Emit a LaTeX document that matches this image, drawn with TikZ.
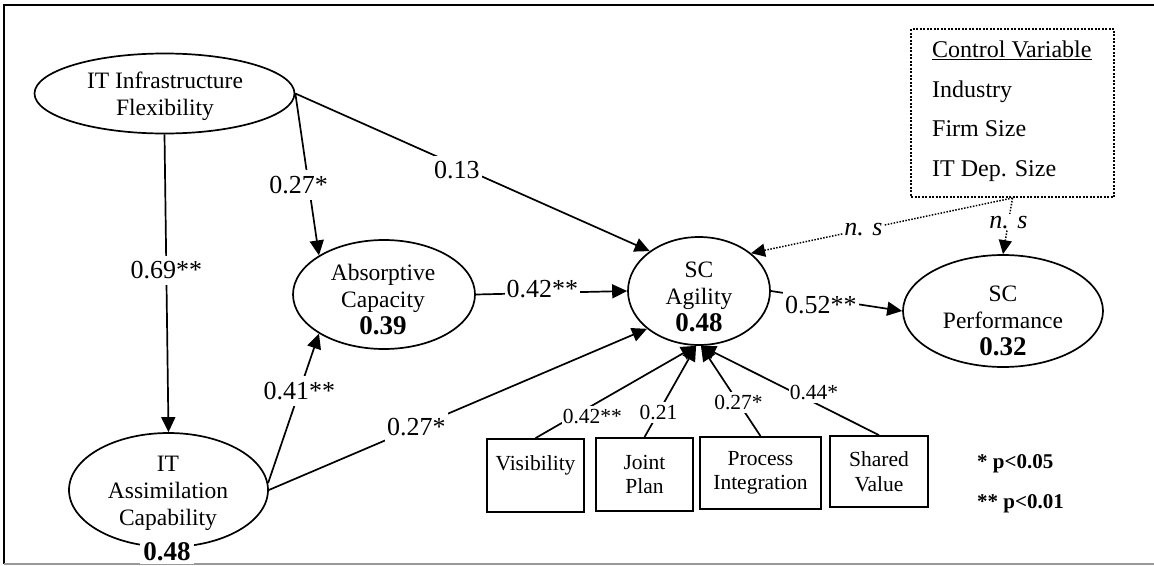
\documentclass[tikz,border=0pt]{standalone}
\usepackage{fontspec}
\setmainfont{Liberation Serif}
\usetikzlibrary{shapes.geometric,arrows.meta}
\newcommand{\bnum}[1]{\textbf{\fontsize{27}{27}\selectfont #1}}
\begin{document}
\begin{tikzpicture}[x=1pt,y=-1pt,
  lat/.style={draw, ellipse, line width=1.7pt, inner sep=0pt},
  ntxt/.style={align=center, font=\fontsize{23.5}{27}\selectfont, inner sep=0pt},
  ind/.style={draw, line width=1.8pt, inner sep=0pt, align=center, font=\fontsize{21.5}{24.5}\selectfont},
  pth/.style={line width=1.7pt, -{Triangle[length=15pt,width=14pt]}},
  npth/.style={line width=1.5pt, dash pattern=on 1.5pt off 1.5pt, -{Triangle[length=14pt,width=13pt]}},
  big/.style={fill=white, inner xsep=2pt, inner ysep=6pt, font=\fontsize{26}{28}\selectfont},
  small/.style={fill=white, inner xsep=1pt, inner ysep=3pt, font=\fontsize{21.5}{24}\selectfont},
  nsl/.style={fill=white, inner xsep=1pt, inner ysep=2pt, font=\fontsize{26}{28}\selectfont\itshape},
  cvt/.style={anchor=base west, inner sep=0pt, font=\fontsize{24}{28}\selectfont},
  leg/.style={anchor=base west, inner sep=0pt, font=\fontsize{21}{24}\selectfont\bfseries}
]
\useasboundingbox (0,0) rectangle (1154,565);
% frame
\draw[line width=2.5pt] (4,564) -- (4,5) -- (1154,5);
\draw[black!40, line width=1.5pt] (4,564) -- (1154,564);

% latent constructs
\node[lat, minimum width=260pt, minimum height=80pt] (itf) at (164.5,93.5) {};
\node[ntxt] (itft) at (165,96.3) {IT Infrastructure\\Flexibility};

\node[lat, minimum width=182pt, minimum height=109pt] (ac) at (384,294.5) {};
\node[ntxt] (act) at (383,299.5) {Absorptive\\Capacity\\\bnum{0.39}};

\node[lat, minimum width=142pt, minimum height=108pt] (agi) at (699,291) {};
\node[ntxt] (agit) at (699,297) {SC\\Agility\\\bnum{0.48}};

\node[lat, minimum width=200pt, minimum height=112pt] (perf) at (1003,311) {};
\node[ntxt] (perft) at (1003,320.5) {SC\\Performance\\\bnum{0.32}};

\node[lat, minimum width=199pt, minimum height=114pt] (itac) at (168.5,490) {};
\node[ntxt] (itact) at (168,493) {IT\\Assimilation\\Capability};
\node[fill=white, inner xsep=3pt, inner ysep=3pt, font=\fontsize{27}{27}\selectfont\bfseries] (itacr) at (167,552) {0.48};

% indicators
\node[ind, minimum width=97pt, minimum height=73pt] (vis) at (535.5,475.5) {Visibility\\\mbox{}};
\node[ind, minimum width=97pt, minimum height=73pt] (jp) at (644.5,474.5) {Joint\\Plan};
\node[ind, minimum width=121pt, minimum height=72pt] (pi) at (760.5,473) {Process\\Integration};
\node[ind, minimum width=98pt, minimum height=71pt] (sv) at (879,471.5) {Shared\\Value};

% control variables
\node[draw, line width=2pt, dash pattern=on 2pt off 1.5pt, minimum width=203pt, minimum height=168pt, inner sep=0pt] (ctrl) at (1012.5,113) {};
\node[cvt] (cv1) at (932,57) {\underline{Control Variable}};
\node[cvt] (cv2) at (932,97) {Industry};
\node[cvt] (cv3) at (932,136) {Firm Size};
\node[cvt] (cv4) at (932,176) {IT Dep. Size};

% legend
\node[leg] (l1) at (977,468) {* p<0.05};
\node[leg] (l2) at (977,508) {** p<0.01};

% paths
\draw[pth] (itf.south) -- node[big, pos=0.457] {0.69**} (itac.north);
\draw[pth] (itf.east) -- node[big, pos=0.565, xshift=-10pt] {0.27*} (ac.149);
\draw[pth] (itf.east) -- node[big, pos=0.456, yshift=-5pt] {0.13} (agi.141.5);
\draw[pth] (ac.east) -- node[big, pos=0.44, yshift=4pt] {0.42**} (agi.west);
\draw[pth] (itac.4) -- node[big, pos=0.615] {0.41**} (ac.211.5);
\draw[pth] (itac.east) -- node[big, pos=0.39] {0.27*} (agi.216);
\draw[pth] (agi.east) -- node[big, pos=0.38, yshift=-6pt] {0.52**} (perf.west);
\draw[npth] (ctrl.south) -- node[nsl, pos=0.57] {n. s} (agi.36);
\draw[npth] (ctrl.south) -- node[nsl, pos=0.43] {n. s} (perf.north);

\draw[pth] (vis.north) -- node[small, pos=0.354, yshift=-11pt] {0.42**} (agi.267);
\draw[pth] (jp.north) -- node[small, pos=0.27] {0.21} (agi.267);
\draw[pth] (pi.north) -- node[small, pos=0.37] {0.27*} (agi.272);
\draw[pth] (sv.north) -- node[small, pos=0.365, yshift=10pt] {0.44*} (agi.272);
\end{tikzpicture}
\end{document}
